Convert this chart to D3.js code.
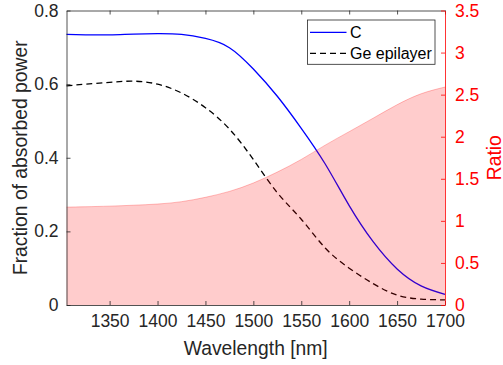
<!DOCTYPE html>
<html>
<head>
<meta charset="utf-8">
<script src="https://cdn.jsdelivr.net/npm/d3@7"></script>
<style>
  html, body { margin: 0; padding: 0; background: #fff; }
  svg { display: block; font-family: "Liberation Sans", Arial, sans-serif; }
</style>
</head>
<body>
<svg id="chart" width="503" height="365"></svg>
<script>
// Wavelength samples (nm)
const wavelength = [1305, 1325, 1350, 1375, 1400, 1425, 1450, 1475, 1500, 1525, 1550, 1575, 1600, 1625, 1650, 1675, 1700];
// Fraction of absorbed power, C
const absC = [0.735, 0.734, 0.734, 0.736, 0.737, 0.735, 0.724, 0.699, 0.641, 0.567, 0.480, 0.383, 0.270, 0.172, 0.098, 0.052, 0.029];
// Fraction of absorbed power, Ge epilayer
const absGe = [0.595, 0.600, 0.605, 0.608, 0.600, 0.576, 0.536, 0.478, 0.395, 0.305, 0.233, 0.155, 0.100, 0.058, 0.027, 0.016, 0.014];
// Ratio (right axis)
const ratio = [1.163, 1.168, 1.175, 1.186, 1.200, 1.228, 1.280, 1.350, 1.450, 1.580, 1.730, 1.900, 2.060, 2.220, 2.380, 2.510, 2.590];

const xTicks = [1350, 1400, 1450, 1500, 1550, 1600, 1650, 1700];
const yLeftTicks = [0, 0.2, 0.4, 0.6, 0.8];
const yRightTicks = [0, 0.5, 1, 1.5, 2, 2.5, 3, 3.5];
const seriesNames = ["C", "Ge epilayer"];

const svg = d3.select("#chart");
const L = 66.5, R = 445, T = 10.5, B = 305;
const ink = "#262626";
const red = "#ff0000";

const x = d3.scaleLinear().domain([1305, 1700]).range([L, R]);
const yL = d3.scaleLinear().domain([0, 0.8]).range([B, T]);
const yR = d3.scaleLinear().domain([0, 3.5]).range([B, T]);

const pts = (ys) => wavelength.map((w, i) => [w, ys[i]]);

// Absorption curves
const lineL = d3.line().x(d => x(d[0])).y(d => yL(d[1])).curve(d3.curveNatural);
svg.append("path").attr("d", lineL(pts(absC)))
  .attr("fill", "none").attr("stroke", "#0000ff").attr("stroke-width", 1.3);
svg.append("path").attr("d", lineL(pts(absGe)))
  .attr("fill", "none").attr("stroke", "#000").attr("stroke-width", 1.3)
  .attr("stroke-dasharray", "6,4");

// Ratio shaded area (semi-transparent, over the curves)
const areaR = d3.area().x(d => x(d[0])).y0(yR(0)).y1(d => yR(d[1])).curve(d3.curveNatural);
svg.append("path").attr("d", areaR(pts(ratio)))
  .attr("fill", red).attr("fill-opacity", 0.2).attr("stroke", "none");
const lineR = d3.line().x(d => x(d[0])).y(d => yR(d[1])).curve(d3.curveNatural);
svg.append("path").attr("d", lineR(pts(ratio)))
  .attr("fill", "none").attr("stroke", red).attr("stroke-opacity", 0.25).attr("stroke-width", 1);

// Axes
const tl = 4;
const axBottom = d3.axisBottom(x).tickValues(xTicks).tickSizeInner(-tl).tickSizeOuter(0).tickPadding(13).tickFormat(d3.format("d"));
const gB = svg.append("g").attr("transform", `translate(0,${B})`).call(axBottom);
const axTop = d3.axisTop(x).tickValues(xTicks).tickSizeInner(-tl).tickSizeOuter(0).tickFormat("");
const gT = svg.append("g").attr("transform", `translate(0,${T})`).call(axTop);
const axLeft = d3.axisLeft(yL).tickValues(yLeftTicks).tickSizeInner(-tl).tickSizeOuter(0).tickPadding(8).tickFormat(d3.format("~g"));
const gL = svg.append("g").attr("transform", `translate(${L},0)`).call(axLeft);
const axRight = d3.axisRight(yR).tickValues(yRightTicks).tickSizeInner(-tl).tickSizeOuter(0).tickPadding(10).tickFormat(d3.format("~g"));
const gR = svg.append("g").attr("transform", `translate(${R},0)`).call(axRight);

[gB, gT, gL].forEach(g => {
  g.select(".domain").attr("stroke", ink).attr("stroke-width", 0.8);
  g.selectAll(".tick line").attr("stroke", ink).attr("stroke-width", 0.8);
  g.selectAll("text").attr("fill", ink).attr("font-size", 17.5)
    .attr("font-family", "Liberation Sans, Arial, sans-serif");
});
gR.select(".domain").attr("stroke", red).attr("stroke-width", 0.8);
gR.selectAll(".tick line").attr("stroke", red).attr("stroke-width", 0.8);
gR.selectAll("text").attr("fill", red).attr("font-size", 17.5)
  .attr("font-family", "Liberation Sans, Arial, sans-serif");
gB.selectAll("text").attr("dy", "0.71em").attr("y", 10);

// Axis titles
svg.append("text").attr("x", (L + R) / 2).attr("y", 355)
  .attr("text-anchor", "middle").attr("fill", ink).attr("font-size", 19.3)
  .text("Wavelength [nm]");
svg.append("text").attr("transform", `translate(27,${(T + B) / 2}) rotate(-90)`)
  .attr("text-anchor", "middle").attr("fill", ink).attr("font-size", 19.3)
  .text("Fraction of absorbed power");
svg.append("text").attr("transform", `translate(500.5,${(T + B) / 2}) rotate(-90)`)
  .attr("text-anchor", "middle").attr("fill", red).attr("font-size", 19.3)
  .text("Ratio");

// Legend
const lg = svg.append("g");
lg.append("rect").attr("x", 307.5).attr("y", 20).attr("width", 127.5).attr("height", 44.3)
  .attr("fill", "#fff").attr("stroke", ink).attr("stroke-width", 0.8);
const legendStyles = [
  { stroke: "#0000ff", dash: null },
  { stroke: "#000", dash: "6,4" }
];
seriesNames.forEach((name, i) => {
  const cy = 32.3 + i * 21;
  lg.append("line").attr("x1", 310).attr("x2", 346.5).attr("y1", cy).attr("y2", cy)
    .attr("stroke", legendStyles[i].stroke).attr("stroke-width", 1.3)
    .attr("stroke-dasharray", legendStyles[i].dash);
  lg.append("text").attr("x", 350).attr("y", cy + 5.8)
    .attr("fill", "#000").attr("font-size", 16).text(name);
});
</script>
</body>
</html>
